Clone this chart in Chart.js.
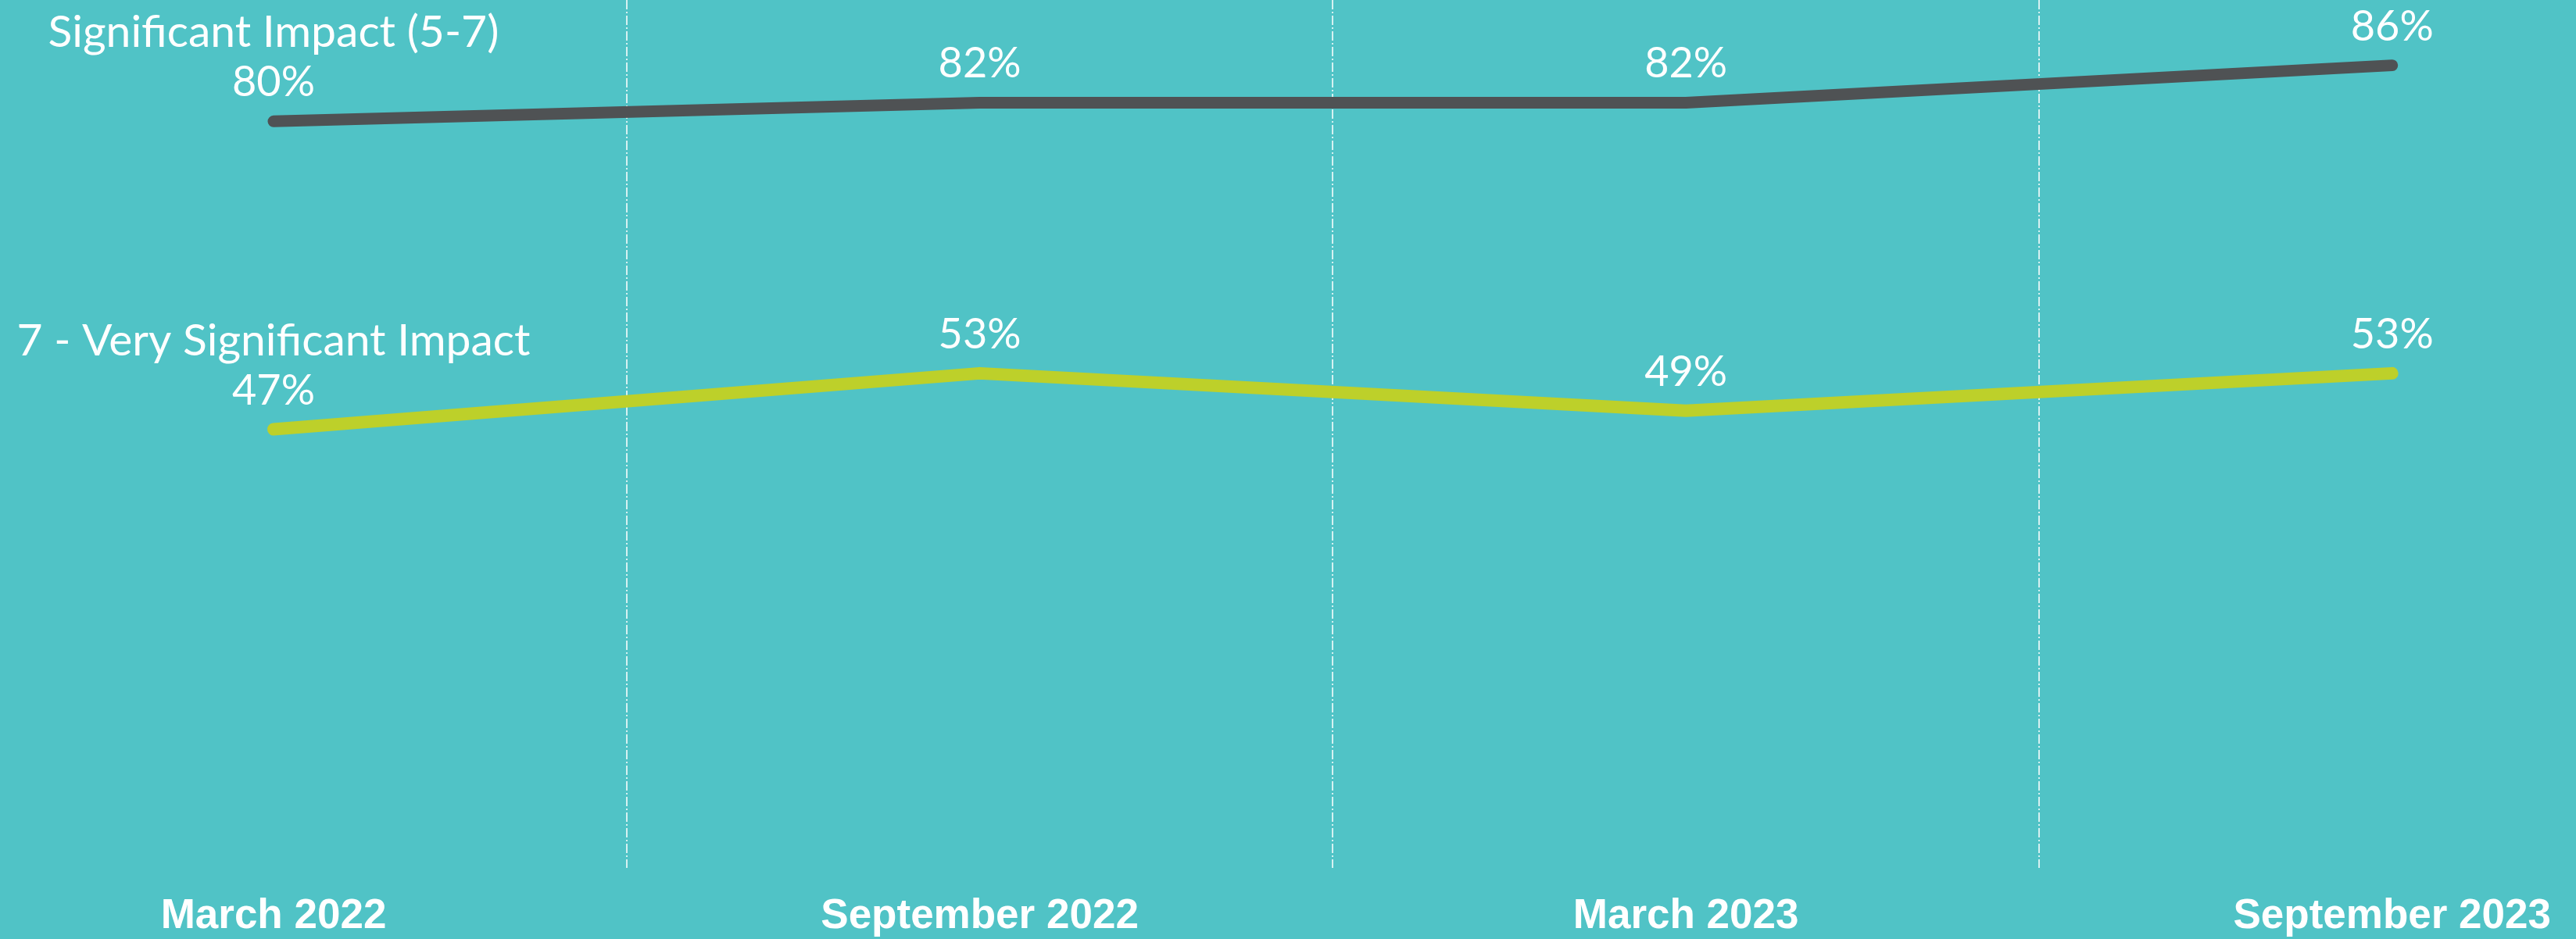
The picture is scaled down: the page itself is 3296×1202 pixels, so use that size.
<!DOCTYPE html>
<html>
<head>
<meta charset="utf-8">
<title>Impact over time</title>
<script src="https://cdn.jsdelivr.net/npm/chart.js@4.4.1/dist/chart.umd.min.js"></script>
<style>
  html, body { margin: 0; padding: 0; background: #50c3c6; }
  #wrap { width: 3296px; height: 1202px; position: relative; }
</style>
</head>
<body>
<div id="wrap"><canvas id="impactChart"></canvas></div>
<script>
const periods = ["March 2022", "September 2022", "March 2023", "September 2023"];
const significant = [80, 82, 82, 86];
const verySignificant = [47, 53, 49, 53];
const seriesNames = ["Significant Impact (5-7)", "7 - Very Significant Impact"];
const lineColors = ["#4f5254", "#bdd02a"];

// writes the % value over every point and the series name over the first one
const pointLabels = {
  id: 'pointLabels',
  afterDatasetsDraw(chart) {
    const ctx = chart.ctx;
    ctx.save();
    ctx.fillStyle = '#ffffff';
    ctx.textAlign = 'center';
    ctx.textBaseline = 'alphabetic';
    chart.data.datasets.forEach(function(ds, i) {
      const meta = chart.getDatasetMeta(i);
      meta.data.forEach(function(pt, j) {
        ctx.font = '400 54px Lato, "Open Sans", sans-serif';
        ctx.fillText(ds.data[j] + '%', pt.x, pt.y - 32);
        if (j === 0) {
          ctx.font = '400 57px Lato, "Open Sans", sans-serif';
          ctx.fillText(ds.label, pt.x, pt.y - 95);
        }
      });
    });
    ctx.restore();
  }
};

new Chart("impactChart", {
  type: "line",
  data: {
    labels: periods,
    datasets: [{
      label: seriesNames[0],
      data: significant,
      borderColor: lineColors[0],
      borderWidth: 15,
      borderCapStyle: 'round',
      borderJoinStyle: 'round',
      pointRadius: 0,
      tension: 0,
      clip: false
    }, {
      label: seriesNames[1],
      data: verySignificant,
      borderColor: lineColors[1],
      borderWidth: 16,
      borderCapStyle: 'round',
      borderJoinStyle: 'round',
      pointRadius: 0,
      tension: 0,
      clip: false
    }]
  },
  options: {
    responsive: true,
    maintainAspectRatio: false,
    animation: false,
    events: [],
    layout: { padding: { left: 350, right: 234, top: 0, bottom: -34 } },
    plugins: {
      legend: { display: false },
      tooltip: { enabled: false }
    },
    scales: {
      x: {
        type: 'category',
        offset: false,
        border: { display: false, dash: [12, 3, 2, 3] },
        grid: {
          offset: true,
          drawTicks: false,
          color: '#d6f1f1',
          lineWidth: 2
        },
        ticks: {
          color: '#ffffff',
          padding: 32,
          maxRotation: 0,
          autoSkip: false,
          font: { family: '"Liberation Sans", Arial, sans-serif', size: 53, weight: 'bold', lineHeight: 1.15 }
        }
      },
      y: {
        display: false,
        min: 0,
        max: 93
      }
    }
  },
  plugins: [pointLabels]
});
</script>
</body>
</html>
